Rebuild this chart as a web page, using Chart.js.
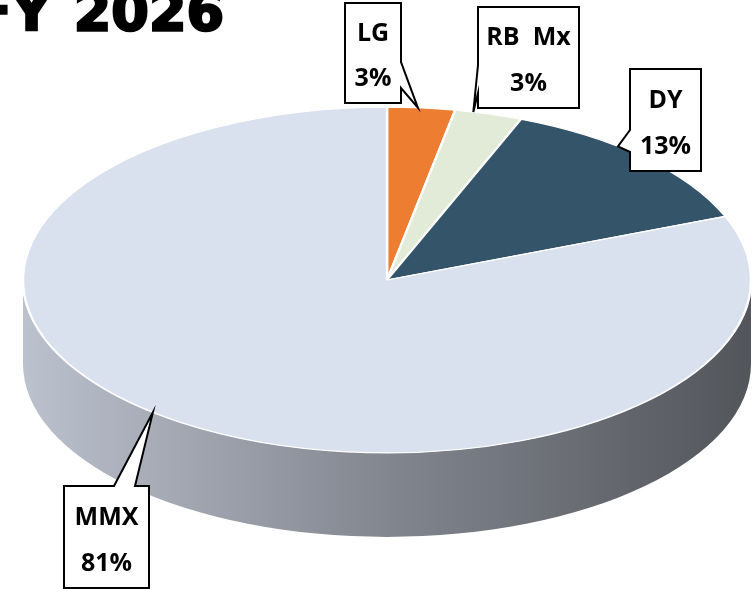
<!DOCTYPE html>
<html lang="en">
<head>
    <meta charset="UTF-8">
    <title>FY 2026 Share</title>
    <script src="https://cdn.jsdelivr.net/npm/chart.js"></script>
    <style>
        body {
            margin: 0;
            background: #fff;
            overflow: hidden;
        }
        canvas {
            display: block;
        }
    </style>
</head>
<body>

<canvas id="shareChart" width="753" height="589"></canvas>

<script>
    // data
    const chartTitle = 'FY 2026';
    const categories = ['LG', 'RB  Mx', 'DY', 'MMX'];
    const shares = [3, 3, 13, 81];
    const sliceColors = ['#ED7D31', '#E2EBD8', '#34546A', '#D9E0EE'];

    // 3D look
    const TILT = 0.475;   // vertical squash of the pie top
    const DEPTH = 84;     // thickness of the side wall

    // callout boxes (x, y, w, h), where the pointer leaves the box,
    // and how far along the slice the pointer touches the rim
    const calloutBoxes = [
        {x: 345, y: 3, w: 56, h: 100, side: 'right', a: 62, b: 88, at: 0.45},
        {x: 478, y: 7, w: 101, h: 101, side: 'left', a: 65, b: 93, at: 0.27},
        {x: 630, y: 69, w: 71, h: 102, side: 'left', a: 130, b: 152, at: 0.38},
        {x: 64, y: 486, w: 85, h: 102, side: 'top', a: 114, b: 135, at: 0.52}
    ];

    function shade(hex, f) {
        const n = parseInt(hex.slice(1), 16);
        const r = Math.round(((n >> 16) & 255) * f);
        const g = Math.round(((n >> 8) & 255) * f);
        const b = Math.round((n & 255) * f);
        return `rgb(${r}, ${g}, ${b})`;
    }

    function drawCallout(ctx, box, tip) {
        const {x, y, w, h, side, a, b} = box;
        ctx.beginPath();
        ctx.moveTo(x, y);
        if (side === 'top') {
            ctx.lineTo(a, y);
            ctx.lineTo(tip.x, tip.y);
            ctx.lineTo(b, y);
        }
        ctx.lineTo(x + w, y);
        if (side === 'right') {
            ctx.lineTo(x + w, a);
            ctx.lineTo(tip.x, tip.y);
            ctx.lineTo(x + w, b);
        }
        ctx.lineTo(x + w, y + h);
        ctx.lineTo(x, y + h);
        if (side === 'left') {
            ctx.lineTo(x, b);
            ctx.lineTo(tip.x, tip.y);
            ctx.lineTo(x, a);
        }
        ctx.closePath();
        ctx.fillStyle = '#fff';
        ctx.fill();
        ctx.lineWidth = 2;
        ctx.strokeStyle = '#000';
        ctx.lineJoin = 'miter';
        ctx.stroke();
    }

    const pie3d = {
        id: 'pie3d',
        beforeDatasetsDraw(chart) {
            const ctx = chart.ctx;
            const meta = chart.getDatasetMeta(0);
            const cx = meta.data[0].x;
            const cy = meta.data[0].y;
            const r = meta.data[0].outerRadius;
            const ry = r * TILT;

            // side wall, only the front half shows
            meta.data.forEach((arc, i) => {
                const s = Math.max(arc.startAngle, 0);
                const e = Math.min(arc.endAngle, Math.PI);
                if (e <= s) return;
                const grad = ctx.createLinearGradient(cx - r, 0, cx + r, 0);
                grad.addColorStop(0, shade(sliceColors[i], 0.86));
                grad.addColorStop(0.5, shade(sliceColors[i], 0.6));
                grad.addColorStop(1, shade(sliceColors[i], 0.38));
                ctx.beginPath();
                ctx.ellipse(cx, cy, r, ry, 0, s, e);
                ctx.ellipse(cx, cy + DEPTH, r, ry, 0, e, s, true);
                ctx.closePath();
                ctx.fillStyle = grad;
                ctx.fill();
            });

            ctx.save();
            ctx.translate(cx, cy);
            ctx.scale(1, TILT);
            ctx.translate(-cx, -cy);
        },
        afterDatasetsDraw(chart) {
            const ctx = chart.ctx;
            ctx.restore();

            const meta = chart.getDatasetMeta(0);
            const total = shares.reduce((s, v) => s + v, 0);
            meta.data.forEach((arc, i) => {
                const box = calloutBoxes[i];
                const ang = arc.startAngle + (arc.endAngle - arc.startAngle) * box.at;
                const tip = {
                    x: arc.x + Math.cos(ang) * arc.outerRadius,
                    y: arc.y + Math.sin(ang) * arc.outerRadius * TILT
                };
                drawCallout(ctx, box, tip);

                ctx.fillStyle = '#000';
                ctx.font = 'bold 25px "Open Sans", sans-serif';
                ctx.textAlign = 'center';
                ctx.textBaseline = 'middle';
                const tx = box.x + box.w / 2;
                ctx.fillText(categories[i], tx, box.y + box.h * 0.31);
                ctx.fillText(Math.round(shares[i] / total * 100) + '%', tx, box.y + box.h * 0.76);
            });

            // title, cut off by the top-left corner
            ctx.save();
            ctx.font = 'bold 54px "DejaVu Sans", sans-serif';
            ctx.wordSpacing = '4px';
            ctx.textAlign = 'left';
            ctx.textBaseline = 'alphabetic';
            ctx.fillStyle = '#000';
            ctx.strokeStyle = '#000';
            ctx.lineWidth = 2.5;
            ctx.fillText(chartTitle, -25, 30);
            ctx.strokeText(chartTitle, -25, 30);
            ctx.restore();
        }
    };

    new Chart(document.getElementById('shareChart'), {
        type: 'pie',
        data: {
            labels: categories,
            datasets: [{
                data: shares,
                backgroundColor: sliceColors,
                borderColor: '#fff',
                borderWidth: 2.5
            }]
        },
        options: {
            responsive: false,
            animation: false,
            events: [],
            radius: 364,
            layout: {
                padding: {left: 23, right: 2, top: 0, bottom: 29}
            },
            plugins: {
                legend: {display: false},
                tooltip: {enabled: false}
            }
        },
        plugins: [pie3d]
    });
</script>
</body>
</html>
